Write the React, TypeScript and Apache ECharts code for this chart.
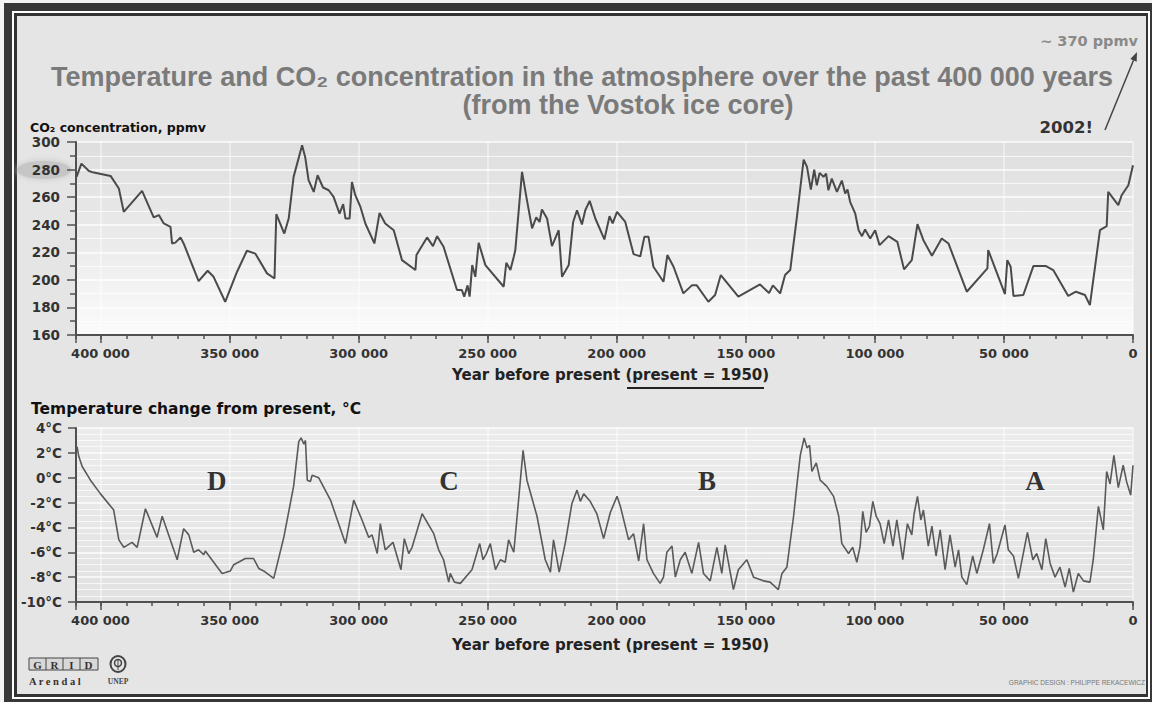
import React, { useEffect, useRef } from "react";
import * as echarts from "echarts";

// ---- Data (years before present, 1950) ----
const co2Years = [
  409300, 407400, 404500, 402600, 396100, 392900, 391000, 383900, 379400, 377400, 375500, 372900,
  372300, 371000, 369000, 367800, 362000, 358500, 356200, 351700, 347100, 343300, 340000, 335500,
  332600, 331900, 328800, 327100, 325200, 321900, 320700, 319400, 317400, 315900, 313800, 311600,
  309700, 307400, 306000, 305100, 303500, 302600, 301300, 299300, 297400, 293900, 291900, 289700,
  286400, 283200, 278000, 277600, 273500, 271200, 269600, 267100, 261900, 260000, 259100, 257800,
  257000, 256000, 254800, 253500, 250900, 243800, 242800, 241200, 239900, 239300, 236700, 234800,
  232800, 231200, 229900, 229000, 227000, 225100, 222500, 221200, 218600, 216900, 215400, 213500,
  212200, 210500, 208300, 204800, 202800, 201600, 199900, 196700, 193500, 190900, 189300, 187700,
  185800, 181900, 180400, 178000, 174200, 170900, 169000, 164500, 161900, 159700, 152900, 144500,
  141000, 139500, 136700, 134800, 132800, 130200, 127600, 126300, 124800, 123500, 122500, 121400,
  119900, 118900, 118000, 116700, 114700, 112800, 111500, 110600, 109600, 107600, 106300, 105000,
  103800, 101800, 99900, 98200, 94700, 91300, 88700, 85700, 83500, 81200, 77900, 74100, 71500,
  64400, 56400, 56100, 49600, 48700, 47400, 46300, 42500, 38600, 33700, 30900, 25100, 22100, 18600,
  16700, 12800, 10200, 9600, 5700, 4400, 1800, 0,
];
const co2Ppmv = [
  274.7, 284.3, 279, 277.8, 275.4, 266.3, 249.3, 264.5, 245.3, 247, 240.9, 238.5,
  226.4, 227, 230.8, 226.4, 199.1, 206.6, 202.2, 184.1, 205.9, 221.1, 219, 204.7,
  201, 247.6, 233.6, 244.5, 274.7, 297.6, 289, 272.3, 263.8, 275.9, 267, 265,
  260.2, 248, 254.9, 244.5, 244.5, 271, 261.4, 252.9, 240.9, 226.4, 248.6, 240.9,
  236, 214.3, 207.1, 218, 230.8, 224.5, 231.7, 224, 192.6, 192.6, 187.8, 196,
  187.8, 210.7, 202.2, 226.9, 210.7, 195, 212.4, 207.1, 216.7, 221.6, 278.3, 257.8,
  237.3, 245.3, 242, 251, 244.5, 224.5, 236, 202.2, 210.7, 242, 250.5, 240.2,
  250.5, 257.3, 244.5, 229.3, 246.2, 240.9, 249.3, 242, 218.7, 217, 231.2, 231.2,
  209.5, 198.6, 218, 209.5, 190.2, 196, 196, 184.1, 189, 203.5, 187.8, 196.7,
  190.5, 196, 190.2, 203.5, 207.1, 245.7, 287.2, 281.9, 265.5, 280, 268.6, 277.6,
  274.7, 277, 265, 273.5, 263.8, 272, 262.6, 265.5, 256.6, 248, 236, 231.7,
  236.5, 230, 236, 225.2, 231.7, 227.6, 207.6, 214.3, 240.4, 228.8, 217.5, 230, 226.4,
  191.4, 208.3, 221.6, 189.7, 214.3, 209.5, 188.3, 189, 210, 210, 207.1, 188.3, 191.4, 189,
  181.7, 236, 238.9, 263.8, 254.2, 261.4, 268.6, 283.1,
];

const tempYears = [
  409100, 408400, 407100, 403900, 400000, 394900, 392900, 391000, 387800, 385800, 382600, 378100,
  376100, 370300, 367800, 365800, 363900, 362000, 360000, 359400, 352900, 349700, 348400, 343900,
  340700, 338700, 336800, 335500, 332900, 329000, 325200, 323200, 322300, 321200, 320600, 319900,
  318700, 318000, 315500, 310900, 305100, 301900, 298700, 296100, 294800, 292800, 291600, 289700,
  286700, 283600, 282300, 280600, 279300, 275400, 270900, 269000, 267100, 265100, 264500, 262900,
  260600, 256100, 253100, 251800, 250500, 249000, 247000, 245100, 243200, 241900, 239900, 238600,
  236300, 234800, 230900, 227700, 225700, 224500, 222300, 219900, 217400, 215400, 214100, 212800,
  210300, 207700, 205100, 202500, 199900, 198600, 195400, 193500, 191500, 189600, 188300, 185800,
  183200, 181900, 180600, 178600, 177300, 175400, 173500, 170900, 168300, 166400, 163800, 161200,
  159300, 158000, 154800, 152900, 149600, 147000, 143200, 140600, 137400, 136000, 134100, 131500,
  130000, 128900, 127400, 126300, 125300, 124400, 122700, 121200, 118600, 116000, 114000, 112800,
  110200, 108600, 107000, 105700, 104700, 103400, 102100, 100800, 99500, 98000, 96400, 94700,
  93000, 91500, 89200, 87400, 85700, 84800, 83500, 82200, 81200, 79300, 77900, 76300,
  74700, 72800, 70900, 68900, 67600, 66300, 64400, 62100, 60500, 58000, 55600, 54100,
  52600, 49600, 48300, 46300, 44400, 40900, 38800, 37300, 35300, 33800, 32100, 30200,
  28300, 26300, 24700, 23100, 21200, 19200, 16700, 15400, 13400, 11500, 10200, 8900,
  7400, 5700, 3800, 2500, 900, 0,
];
const tempChange = [
  2.5, 1.7, 0.9, -0.2, -1.3, -2.6, -5.0, -5.6, -5.2, -5.6, -2.5, -4.8,
  -3.1, -6.6, -4.1, -4.6, -6.0, -5.8, -6.2, -5.9, -7.7, -7.5, -7.0, -6.5,
  -6.5, -7.3, -7.5, -7.7, -8.1, -4.8, -0.7, 2.9, 3.2, 2.7, 3.0, -0.2,
  -0.3, 0.2, 0.0, -1.8, -5.3, -1.8, -3.4, -4.8, -4.6, -6.1, -3.7, -5.8,
  -5.2, -7.4, -4.9, -6.1, -5.6, -2.9, -4.5, -5.8, -6.6, -8.4, -7.7, -8.4,
  -8.5, -7.4, -5.3, -6.6, -6.1, -5.3, -7.4, -6.6, -6.8, -5.0, -6.0, -3.1,
  2.2, -0.2, -3.1, -6.6, -7.6, -5.0, -7.6, -5.2, -2.1, -1.0, -1.9, -1.3,
  -1.9, -2.9, -4.9, -2.8, -1.5, -2.3, -5.0, -4.5, -6.7, -3.7, -6.6, -7.7,
  -8.5, -8.0, -6.0, -5.5, -8.0, -6.6, -6.0, -7.7, -5.2, -7.7, -8.3, -5.6,
  -7.7, -5.4, -9.0, -7.4, -6.6, -8.0, -8.3, -8.4, -9.0, -7.7, -7.2, -3.1,
  -0.2, 1.8, 3.2, 2.4, 2.6, 0.5, 1.2, -0.2, -0.7, -1.5, -3.1, -5.3,
  -6.1, -5.6, -6.8, -5.5, -2.7, -4.4, -3.9, -1.9, -3.1, -3.7, -5.3, -3.4,
  -5.5, -3.4, -6.6, -3.7, -4.6, -2.9, -1.5, -3.4, -2.6, -5.5, -3.9, -6.3,
  -4.2, -7.4, -4.6, -7.2, -5.8, -8.0, -8.6, -6.3, -7.7, -5.8, -3.7, -6.9,
  -6.1, -3.8, -5.8, -6.3, -8.1, -4.4, -6.6, -6.1, -7.4, -4.9, -6.9, -8.0,
  -7.2, -8.8, -7.3, -9.2, -7.7, -8.3, -8.4, -6.6, -2.3, -4.2, 0.5, -0.5,
  1.8, -0.8, 1.0, -0.3, -1.4, 1.0,
];

const yearLabelStep = 50000;
const yearMinorStep = 10000;
const yearMax = 409500;
const co2Range = [160, 300];
const co2Step = 20;
const tempRange = [-10, 4];
const tempStep = 2;
const periodLabels = ["D", "C", "B", "A"];
const periodYears = [355000, 265000, 165000, 38000];

const TICK_FONT = "'DejaVu Sans', sans-serif";
const AXIS_DARK = "#505050";

function fmtYear(v: number): string {
  if (v % yearLabelStep !== 0) return "";
  if (v === 0) return "0";
  return `${v / 1000} 000`;
}

export default function App() {
  const ref = useRef<HTMLDivElement>(null);

  useEffect(() => {
    if (!ref.current) return;
    const chart = echarts.init(ref.current, undefined, { renderer: "svg" });

    const grids = [
      { left: 76, right: 19, top: 142, bottom: 367 },
      { left: 76, right: 19, top: 428, bottom: 100 },
    ];

    const xMinor = (gridIndex: number) => ({
      type: "value",
      gridIndex,
      position: "bottom",
      min: 0,
      max: yearMax,
      inverse: true,
      interval: yearMinorStep,
      axisLine: { show: true, onZero: false, lineStyle: { color: AXIS_DARK, width: 2 } },
      axisTick: { show: true, length: 4, lineStyle: { color: AXIS_DARK, width: 1.5 } },
      axisLabel: { show: false },
      splitLine: { show: false },
    });
    const xMajor = (gridIndex: number) => ({
      type: "value",
      gridIndex,
      position: "bottom",
      min: 0,
      max: yearMax,
      inverse: true,
      interval: yearLabelStep,
      axisLine: { show: false, onZero: false },
      axisTick: { show: true, length: 8, lineStyle: { color: AXIS_DARK, width: 1.5 } },
      axisLabel: {
        show: true,
        margin: 12,
        formatter: (v: number) => fmtYear(v),
        color: "#333",
        fontFamily: TICK_FONT,
        fontWeight: "bold",
        fontSize: 13,
      },
      splitLine: { show: true, lineStyle: { color: "rgba(255,255,255,0.55)", width: 1.5 } },
    });

    const labelStyle = {
      color: "#333",
      fontFamily: TICK_FONT,
      fontWeight: "bold",
      fontSize: 13.5,
    };

    const txt = (
      x: number,
      y: number,
      text: string,
      o: { size: number; fill: string; align?: string; family?: string; weight?: string }
    ) => ({
      type: "text",
      x,
      y,
      style: {
        text,
        fill: o.fill,
        fontFamily: o.family || TICK_FONT,
        fontWeight: o.weight || "bold",
        fontSize: o.size,
        textAlign: o.align || "left",
        align: o.align || "left",
        textVerticalAlign: "middle",
        verticalAlign: "middle",
      },
    });

    const TITLE_FONT = "'Liberation Sans', Arial, sans-serif";
    const SERIF = "'Liberation Serif', 'Times New Roman', serif";

    const graphic: any[] = [
      // highlight behind 280
      {
        type: "ellipse",
        z: -1,
        shape: { cx: 44, cy: 170, rx: 27, ry: 9 },
        style: { fill: "#c6c6c6", shadowBlur: 6, shadowColor: "#c6c6c6" },
      },
      txt(582, 77, "Temperature and CO₂ concentration in the atmosphere over the past 400 000 years", {
        size: 27, fill: "#7a7a7a", align: "center", family: TITLE_FONT,
      }),
      txt(628, 105, "(from the Vostok ice core)", { size: 27, fill: "#7a7a7a", align: "center", family: TITLE_FONT }),
      txt(1138, 41, "~ 370 ppmv", { size: 14.5, fill: "#8a8a8a", align: "right" }),
      txt(1093, 127, "2002!", { size: 16.5, fill: "#333", align: "right" }),
      {
        type: "line",
        shape: { x1: 1105, y1: 130, x2: 1133.5, y2: 60.3 },
        style: { stroke: "#444", lineWidth: 1.5 },
      },
      {
        type: "polygon",
        shape: { points: [[1137, 52], [1136.7, 61.7], [1130.3, 58.9]] },
        style: { fill: "#444" },
      },
      txt(30, 127, "CO₂ concentration, ppmv", { size: 12.5, fill: "#111" }),
      txt(31, 409, "Temperature change from present, °C", { size: 15.5, fill: "#111" }),
      txt(452, 375, "Year before present (present = 1950)", { size: 15, fill: "#222" }),
      {
        type: "line",
        shape: { x1: 627, y1: 388, x2: 764, y2: 388 },
        style: { stroke: "#222", lineWidth: 2 },
      },
      txt(452, 645, "Year before present (present = 1950)", { size: 15, fill: "#222" }),
      // footer: GRID Arendal
      {
        type: "rect",
        shape: { x: 29, y: 658, width: 69, height: 12 },
        style: { fill: "#d8d8d8", stroke: "#444", lineWidth: 1 },
      },
      ...[46, 63, 80].map((x) => ({
        type: "line",
        shape: { x1: x, y1: 658, x2: x, y2: 670 },
        style: { stroke: "#444", lineWidth: 1 },
      })),
      ...["G", "R", "I", "D"].map((ch, i) =>
        txt(37.5 + i * 17, 664.5, ch, { size: 11, fill: "#333", align: "center", family: SERIF })
      ),
      txt(29, 681, "A r e n d a l", { size: 10.5, fill: "#333", family: SERIF }),
      {
        type: "ellipse",
        shape: { cx: 118, cy: 664, rx: 7.5, ry: 8 },
        style: { fill: "none", stroke: "#444", lineWidth: 2 },
      },
      {
        type: "circle",
        shape: { cx: 118, cy: 663, r: 3.5 },
        style: { fill: "none", stroke: "#444", lineWidth: 1.5 },
      },
      {
        type: "line",
        shape: { x1: 118, y1: 659, x2: 118, y2: 670 },
        style: { stroke: "#444", lineWidth: 1 },
      },
      txt(118, 681, "UNEP", { size: 7.5, fill: "#444", align: "center", family: SERIF }),
      txt(1145, 682, "GRAPHIC DESIGN : PHILIPPE REKACEWICZ", {
        size: 6.5, fill: "#777", align: "right", family: TITLE_FONT, weight: "normal",
      }),
    ];

    const option: any = {
      animation: false,
      backgroundColor: "transparent",
      grid: grids.map((g, i) => ({
        ...g,
        show: true,
        borderWidth: 0,
        backgroundColor:
          i === 0
            ? new echarts.graphic.LinearGradient(0, 0, 0, 1, [
                { offset: 0, color: "#dedede" },
                { offset: 0.55, color: "#ececec" },
                { offset: 1, color: "#fbfbfb" },
              ])
            : new echarts.graphic.LinearGradient(0, 0, 0, 1, [
                { offset: 0, color: "#ececec" },
                { offset: 1, color: "#e2e2e2" },
              ]),
      })),
      xAxis: [xMinor(0), xMajor(0), xMinor(1), xMajor(1)],
      yAxis: [
        {
          type: "value",
          gridIndex: 0,
          min: co2Range[0],
          max: co2Range[1],
          interval: co2Step,
          axisLine: { show: true, onZero: false, lineStyle: { color: AXIS_DARK, width: 2 } },
          axisTick: { show: true, length: 9, lineStyle: { color: AXIS_DARK, width: 1.5 } },
          minorTick: { show: true, splitNumber: 2, length: 6, lineStyle: { color: AXIS_DARK, width: 1.5 } },
          axisLabel: { ...labelStyle, margin: 16 },
          splitLine: { show: true, lineStyle: { color: "rgba(255,255,255,0.9)", width: 1.5 } },
          minorSplitLine: { show: true, lineStyle: { color: "rgba(255,255,255,0.75)", width: 1 } },
        },
        {
          type: "value",
          gridIndex: 1,
          min: tempRange[0],
          max: tempRange[1],
          interval: tempStep,
          axisLine: { show: true, onZero: false, lineStyle: { color: AXIS_DARK, width: 2 } },
          axisTick: { show: true, length: 8, lineStyle: { color: AXIS_DARK, width: 1.5 } },
          axisLabel: { ...labelStyle, margin: 14, formatter: (v: number) => `${v}°C` },
          splitLine: { show: true, lineStyle: { color: "rgba(255,255,255,0.9)", width: 1.5 } },
          minorTick: { show: false, splitNumber: 4 },
          minorSplitLine: { show: true, lineStyle: { color: "rgba(255,255,255,0.7)", width: 1 } },
        },
      ],
      series: [
        {
          type: "line",
          name: "CO2",
          xAxisIndex: 0,
          yAxisIndex: 0,
          data: co2Years.map((y, i) => [y, co2Ppmv[i]]),
          showSymbol: false,
          symbol: "none",
          lineStyle: { color: "#4a4a4a", width: 2 },
          z: 5,
        },
        {
          type: "line",
          name: "Temperature",
          xAxisIndex: 2,
          yAxisIndex: 1,
          data: tempYears.map((y, i) => [y, tempChange[i]]),
          showSymbol: false,
          symbol: "none",
          lineStyle: { color: "#5a5a5a", width: 1.6 },
          z: 5,
        },
        {
          type: "scatter",
          name: "Periods",
          xAxisIndex: 2,
          yAxisIndex: 1,
          data: periodYears.map((y, i) => ({ value: [y, -0.3], name: periodLabels[i] })),
          symbolSize: 0,
          silent: true,
          label: {
            show: true,
            position: "inside",
            formatter: (p: any) => p.name,
            color: "#000",
            fontFamily: SERIF,
            fontWeight: "bold",
            fontSize: 27,
          },
          z: 6,
        },
      ],
      graphic,
    };

    chart.setOption(option);
    return () => chart.dispose();
  }, []);

  const abs = (l: number, t: number, w: number, h: number, bg: string): React.CSSProperties => ({
    position: "absolute",
    left: l,
    top: t,
    width: w,
    height: h,
    background: bg,
  });

  return (
    <div style={{ position: "absolute", left: 0, top: 0, width: 1152, height: 702, background: "#f4f4f4", overflow: "hidden" }}>
      <div style={abs(4, 3, 1148, 699, "#383838")} />
      <div style={abs(12, 11, 1138, 688, "#ffffff")} />
      <div style={abs(14, 13, 1134, 684, "#333333")} />
      <div style={abs(17, 16, 1129, 678, "#e5e5e5")} />
      <div ref={ref} style={{ position: "absolute", left: 0, top: 0, width: 1152, height: 702 }} />
    </div>
  );
}
